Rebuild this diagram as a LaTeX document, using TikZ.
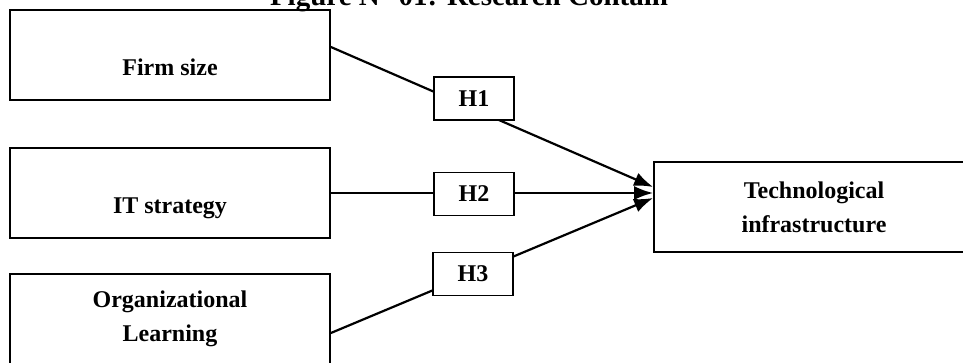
\documentclass[tikz,border=0pt]{standalone}
\usepackage{fontspec}
\setmainfont{Liberation Serif}
\usetikzlibrary{arrows.meta}

\tikzset{
  var/.style={draw, line width=1.8pt, minimum width=320pt, minimum height=90pt,
    align=center, font=\fontsize{24}{34}\selectfont\bfseries},
  low/.style={text height=41pt, text depth=0pt},
  hyp/.style={draw, fill=white, line width=1.8pt, minimum width=80pt,
    minimum height=43pt, font=\fontsize{24}{28}\selectfont\bfseries},
  link/.style={line width=2.2pt, -{Latex[length=19pt,width=14pt]}}
}

\begin{document}
\begin{tikzpicture}[x=1pt, y=-1pt]
\path[use as bounding box] (0,0) rectangle (963,363);
\clip (0,0) rectangle (963,363);
% Title
\node[anchor=base, font=\fontsize{29}{32}\selectfont\bfseries] (title) at (469,6)
  {Figure N° 01: Research Contain};
% Variables
\node[var, low] (firm) at (170,55) {Firm size};
\node[var, low] (it) at (170,193) {IT strategy};
\node[var] (org) at (170,319) {Organizational\\Learning};
\node[var] (tech) at (814,207) {Technological\\infrastructure};
% Links
\draw[link] ([yshift=8pt]firm.east) -- ([yshift=20pt]tech.west);
\draw[link] (it.east) -- (tech.west |- it.east);
\draw[link] ([yshift=-14pt]org.east) -- ([yshift=9pt]tech.west);
% Hypotheses
\foreach \n/\x/\y in {1/474/98.5, 2/474/194, 3/473/274} {
  \node[hyp] (h\n) at (\x,\y) {H\n};
}
\end{tikzpicture}
\end{document}
